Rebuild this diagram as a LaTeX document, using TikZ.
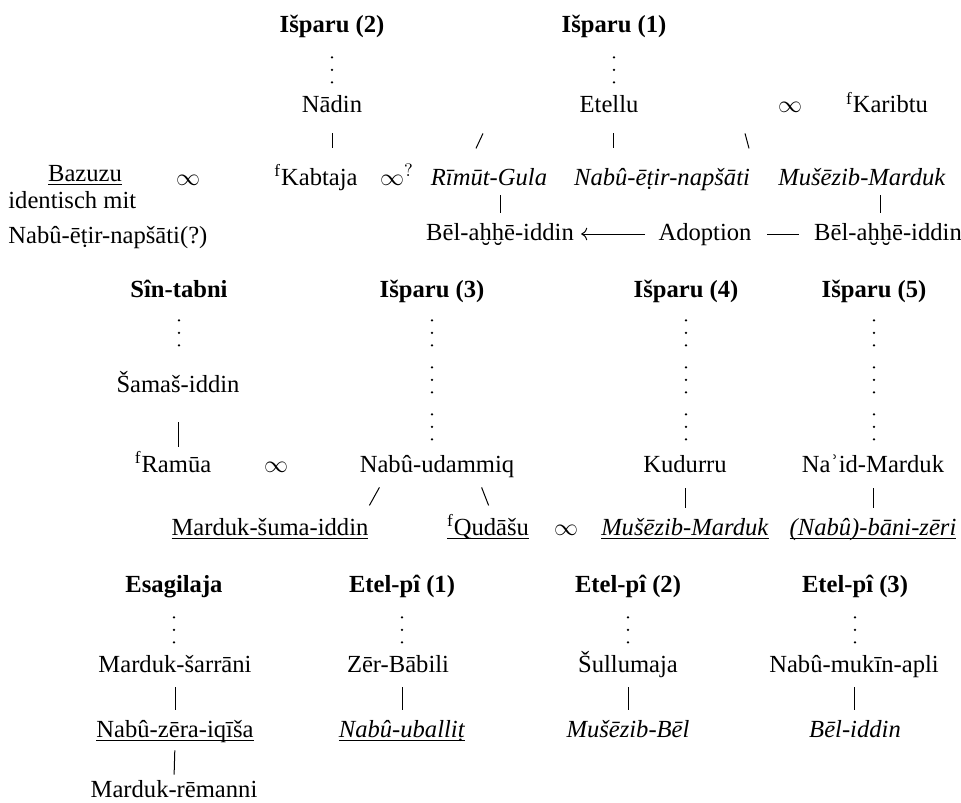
\documentclass[tikz,border=0pt]{standalone}
\usepackage{fontspec}
\setmainfont{Liberation Serif}
\usetikzlibrary{positioning}
\usetikzlibrary{arrows.meta}

\newsavebox{\ulnbox}
\newcommand{\uln}[1]{\sbox{\ulnbox}{#1}\rlap{\usebox{\ulnbox}}\rule[-1.8pt]{\wd\ulnbox}{0.5pt}}

\tikzset{
  person/.style={anchor=base, inner sep=0pt, text height=9pt, text depth=3pt, font=\fontsize{12.3}{15}\selectfont},
  clan/.style={person, font=\fontsize{12.3}{15}\selectfont\bfseries},
  marr/.style={person},
  kin/.style={draw, line width=0.5pt},
  lineage/.style={draw, line width=1.3pt, line cap=round, dash pattern=on 0pt off 6.25pt on 0pt off 6.25pt on 0pt off 11pt},
}

\begin{document}
\begin{tikzpicture}[x=0.5pt, y=-0.5pt]
    \useasboundingbox (0,0) rectangle (961,802);

    % Išparu (1) and (2)
    \node[clan] (isp2) at (332,33) {Išparu (2)};
    \node[clan] (isp1) at (614,33) {Išparu (1)};
    \node[person] (nadin) at (332,113) {Nādin};
    \node[person] (etellu) at (609,113) {Etellu};
    \node[marr] (m1) at (790,113) {$\infty$};
    \node[person] (karibtu) at (887,113) {\textsuperscript{f}Karibtu};

    \node[person] (bazuzu) at (85,181) {\uln{Bazuzu}};
    \node[marr] (m2) at (188,185) {$\infty$};
    \node[person] (kabtaja) at (316,185) {\textsuperscript{f}Kabtaja};
    \node[marr] (m3) at (397,185) {$\infty^{?}$};
    \node[person] (rimut) at (489,185) {\textit{Rīmūt-Gula}};
    \node[person] (nabuetir) at (662,185) {\textit{Nabû-ēṭir-napšāti}};
    \node[person] (musezib1) at (862,185) {\textit{Mušēzib-Marduk}};

    \node[person, anchor=base west] (ident) at (8,208) {identisch mit};
    \node[person, anchor=base west] (nabuq) at (8,243) {Nabû-ēṭir-napšāti(?)};

    \node[person] (belL) at (500,240) {Bēl-aḫḫē-iddin};
    \node[person] (adoption) at (705,240) {Adoption};
    \node[person] (belR) at (888,240) {Bēl-aḫḫē-iddin};

    \draw[lineage, shorten <=9pt, shorten >=5.5pt] (isp2.south) -- (nadin.north);
    \draw[lineage, shorten <=9pt, shorten >=5.5pt] (isp1.south) -- (isp1.south |- etellu.north);
    \draw[kin, shorten <=7pt, shorten >=9.5pt] (nadin.south) -- (nadin.south |- kabtaja.north);
    \draw[kin] ([shift={(-126,14)}]etellu.south) -- ++(-7,15);
    \draw[kin] ([shift={(4,14)}]etellu.south) -- ++(0,15);
    \draw[kin] ([shift={(136,14)}]etellu.south) -- ++(4,15);
    \draw[kin, shorten <=2pt, shorten >=4.5pt] (belL.north |- rimut.south) -- (belL.north);
    \draw[kin, shorten <=4.5pt, shorten >=2pt] ([xshift=-4pt]belR.north) -- ++(0,-31);

    % Adoption
    \draw[kin, -{To[length=3pt]}, shorten <=6.5pt, shorten >=3.5pt] (adoption.west) -- (belL.east);
    \draw[kin, shorten <=7.5pt, shorten >=7.5pt] (belR.west) -- (adoption.east);

    % Sîn-tabni, Išparu (3)-(5)
    \node[clan] (sintabni) at (179,297) {Sîn-tabni};
    \node[clan] (isp3) at (432,297) {Išparu (3)};
    \node[clan] (isp4) at (686,297) {Išparu (4)};
    \node[clan] (isp5) at (874,297) {Išparu (5)};

    \node[person] (samas) at (178,392) {Šamaš-iddin};
    \node[person] (ramua) at (173,472) {\textsuperscript{f}Ramūa};
    \node[marr] (m4) at (276,472) {$\infty$};
    \node[person] (udammiq) at (437,472) {Nabû-udammiq};
    \node[person] (kudurru) at (685,472) {Kudurru};
    \node[person] (naid) at (873,472) {Naʾid-Marduk};

    \node[person] (marduksuma) at (270,535) {\uln{Marduk-šuma-iddin}};
    \node[person] (qudasu) at (488,535) {\uln{\textsuperscript{f}Qudāšu}};
    \node[marr] (m5) at (566,535) {$\infty$};
    \node[person] (musezib2) at (685,535) {\uln{\textit{Mušēzib-Marduk}}};
    \node[person] (banizeri) at (873,535) {\uln{\textit{(Nabû)-bāni-zēri}}};

    \draw[lineage, shorten <=8.5pt, shorten >=13.5pt] (sintabni.south) -- (sintabni.south |- samas.north);
    \foreach \a/\b in {isp3/udammiq, isp4/kudurru, isp5/naid}
        \draw[lineage, shorten <=8.5pt, shorten >=6pt] (\a.south) -- (\a.south |- \b.north);
    \draw[kin, shorten <=12pt, shorten >=3.5pt] (samas.south) -- (samas.south |- ramua.north);
    \draw[kin] ([shift={(20,9)}]udammiq.south west) -- ++(-10,18);
    \draw[kin] ([shift={(-33,9)}]udammiq.south east) -- ++(7,18);
    \draw[kin, shorten <=5pt, shorten >=4.5pt] (kudurru.south) -- (musezib2.north);
    \draw[kin, shorten <=5pt, shorten >=4.5pt] (naid.south) -- (banizeri.north);

    % Esagilaja, Etel-pî (1)-(3)
    \node[clan] (esag) at (174,592) {Esagilaja};
    \node[clan] (etel1) at (402,592) {Etel-pî (1)};
    \node[clan] (etel2) at (628,592) {Etel-pî (2)};
    \node[clan] (etel3) at (855,592) {Etel-pî (3)};

    \node[person] (sarrani) at (175,672) {Marduk-šarrāni};
    \node[person] (zer) at (398,672) {Zēr-Bābili};
    \node[person] (sull) at (628,672) {Šullumaja};
    \node[person] (mukin) at (854,672) {Nabû-mukīn-apli};

    \node[person] (zera) at (175,737) {\uln{Nabû-zēra-iqīša}};
    \node[person] (uballit) at (402,737) {\uln{\textit{Nabû-uballiṭ}}};
    \node[person] (mbel) at (628,737) {\textit{Mušēzib-Bēl}};
    \node[person] (beliddin) at (855,737) {\textit{Bēl-iddin}};
    \node[person] (remanni) at (174,797) {Marduk-rēmanni};

    \foreach \a/\b in {esag/sarrani, etel1/zer, etel2/sull, etel3/mukin}
        \draw[lineage, shorten <=9.5pt, shorten >=5.5pt] (\a.south) -- (\a.south |- \b.north);
    \foreach \a/\b in {sarrani/zera, sull/mbel, mukin/beliddin}
        \draw[kin, shorten <=4.5pt, shorten >=4.5pt] (\a.south) -- (\a.south |- \b.north);
    \draw[kin, shorten <=4.5pt, shorten >=4.5pt] (uballit.north |- zer.south) -- (uballit.north);
    \draw[kin, shorten <=3.5pt, shorten >=2pt] (zera.south) -- (remanni.north);
\end{tikzpicture}
\end{document}
